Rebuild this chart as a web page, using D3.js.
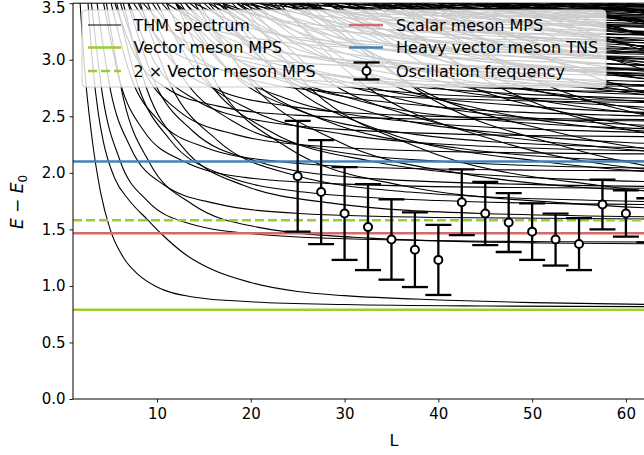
<!DOCTYPE html>
<html>
<head>
<meta charset="utf-8">
<script src="https://cdn.jsdelivr.net/npm/d3@7"></script>
<style>
  body { margin: 0; background: #fff; }
  svg { font-family: "DejaVu Sans", sans-serif; display: block; }
</style>
</head>
<body>
<div id="chart"></div>
<script>
// --- Data ---
// Reference levels (horizontal lines)
const vectorMesonMps = 0.79;
const scalarMesonMps = 1.465;
const heavyVectorTns = 2.10;

// Oscillation frequency points with symmetric error bars
const oscL   = [25, 27.5, 30, 32.5, 35, 37.5, 40, 42.5, 45, 47.5, 50, 52.5, 55, 57.5, 60, 62.5];
const oscE   = [1.97, 1.83, 1.64, 1.52, 1.41, 1.32, 1.23, 1.74, 1.64, 1.56, 1.48, 1.41, 1.37, 1.72, 1.64, 1.58];
const oscErr = [0.49, 0.46, 0.41, 0.38, 0.355, 0.33, 0.31, 0.29, 0.28, 0.26, 0.25, 0.23, 0.23, 0.22, 0.205, 0.195];

// THM spectrum: each level is a list of [L, E] points
const thmCurves = [
  // lowest levels
  [[1.8,3.5],[2.3,2.9],[3,2.35],[4,1.82],[5,1.5],[6.5,1.24],[8,1.1],[10,0.99],[14,0.9],[20,0.86],[30,0.835],[45,0.822],[70,0.815]],
  [[2.64,3.5],[3.2,2.9],[3.7,2.55],[4.24,2.29],[5.5,1.95],[7,1.76],[9,1.585],[10.35,1.47],[13,1.28],[16,1.14],[20,1.03],[25,0.95],[30,0.914],[40,0.876],[50,0.852],[70,0.826]],
  [[3,3.5],[4.2,2.68],[6,2.12],[9,1.75],[13.5,1.55],[21,1.455],[33,1.41],[54,1.39],[90,1.38]],
  [[4.6,3.5],[6.44,2.65],[9.2,2.09],[13.8,1.72],[20.7,1.52],[32.2,1.425],[50.6,1.38],[82.8,1.36]],
  // levels around 1.6 - 2.2
  [[3.6,3.5],[5.04,2.73],[7.2,2.22],[10.8,1.89],[16.2,1.73],[25.2,1.64],[39.6,1.605],[64.8,1.59]],
  [[6.4,3.5],[8.96,2.73],[12.8,2.22],[19.2,1.89],[28.8,1.73],[44.8,1.64],[70.4,1.605]],
  [[12,3.5],[16.8,2.73],[24,2.22],[36,1.89],[54,1.73],[84,1.64]],
  [[19,3.5],[26.6,2.73],[38,2.22],[57,1.89],[85.5,1.73]],
  [[27,3.5],[37.8,2.73],[54,2.22],[81,1.89]],
  [[5.7,3.5],[7.98,2.77],[11.4,2.29],[17.1,1.98],[25.65,1.83],[39.9,1.755],[62.7,1.72],[102.6,1.71]],
  [[8.2,3.5],[11.48,2.77],[16.4,2.29],[24.6,1.98],[36.9,1.83],[57.4,1.755],[90.2,1.72]],
  [[14.5,3.5],[20.3,2.77],[29,2.29],[43.5,1.98],[65.25,1.83]],
  [[23,3.5],[32.2,2.77],[46,2.29],[69,1.98]],
  [[33,3.5],[46.2,2.77],[66,2.29]],
  [[4.3,3.5],[6.02,2.815],[8.6,2.37],[12.9,2.1],[19.35,1.96],[30.1,1.9],[47.3,1.87],[77.4,1.857]],
  [[6.9,3.5],[9.66,2.815],[13.8,2.37],[20.7,2.1],[31.05,1.96],[48.3,1.9],[75.9,1.87]],
  [[11,3.5],[15.4,2.815],[22,2.37],[33,2.1],[49.5,1.96],[77,1.9]],
  [[17,3.5],[23.8,2.815],[34,2.37],[51,2.1],[76.5,1.96]],
  [[26,3.5],[36.4,2.815],[52,2.37],[78,2.1]],
  [[36,3.5],[50.4,2.815],[72,2.37]],
  [[5.1,3.5],[7.14,2.865],[10.2,2.46],[15.3,2.22],[22.95,2.1],[35.7,2.04],[56.1,2.02],[91.8,2.006]],
  [[9,3.5],[12.6,2.865],[18,2.46],[27,2.22],[40.5,2.1],[63,2.04]],
  [[14,3.5],[19.6,2.865],[28,2.46],[42,2.22],[63,2.1]],
  [[19.5,3.5],[27.3,2.865],[39,2.46],[58.5,2.22],[87.75,2.1]],
  [[29,3.5],[40.6,2.865],[58,2.46],[87,2.22]],
  [[40,3.5],[56,2.865],[80,2.46]],
  [[6.1,3.5],[8.54,2.92],[12.2,2.555],[18.3,2.34],[27.45,2.235],[42.7,2.185],[67.1,2.165]],
  [[10,3.5],[14,2.92],[20,2.555],[30,2.34],[45,2.235],[70,2.185]],
  [[12.5,3.5],[17.5,2.92],[25,2.555],[37.5,2.34],[56.25,2.235],[87.5,2.185]],
  [[16,3.5],[22.4,2.92],[32,2.555],[48,2.34],[72,2.235]],
  [[22.5,3.5],[31.5,2.92],[45,2.555],[67.5,2.34]],
  [[31,3.5],[43.4,2.92],[62,2.555],[93,2.34]],
  [[44,3.5],[61.6,2.92],[88,2.555]],
  // levels around 2.3 - 2.7
  [[7,3.5],[9.8,2.97],[14,2.65],[21,2.46],[31.5,2.375],[49,2.33],[77,2.31]],
  [[12,3.5],[16.8,2.97],[24,2.65],[36,2.46],[54,2.375],[84,2.33]],
  [[15.5,3.5],[21.7,2.97],[31,2.65],[46.5,2.46],[69.75,2.375]],
  [[18,3.5],[25.2,2.97],[36,2.65],[54,2.46],[81,2.375]],
  [[25,3.5],[35,2.97],[50,2.65],[75,2.46]],
  [[34,3.5],[47.6,2.97],[68,2.65]],
  [[47,3.5],[65.8,2.97]],
  [[5.5,3.5],[7.7,3.03],[11,2.75],[16.5,2.59],[24.75,2.51],[38.5,2.475],[60.5,2.46],[99,2.454]],
  [[8,3.5],[11.2,3.03],[16,2.75],[24,2.59],[36,2.51],[56,2.475],[88,2.46]],
  [[13,3.5],[18.2,3.03],[26,2.75],[39,2.59],[58.5,2.51],[91,2.475]],
  [[16.5,3.5],[23.1,3.03],[33,2.75],[49.5,2.59],[74.25,2.51]],
  [[20,3.5],[28,3.03],[40,2.75],[60,2.59],[90,2.51]],
  [[24,3.5],[33.6,3.03],[48,2.75],[72,2.59]],
  [[28,3.5],[39.2,3.03],[56,2.75],[84,2.59]],
  [[36,3.5],[50.4,3.03],[72,2.75]],
  [[50,3.5],[70,3.03]],
  [[9.5,3.5],[13.3,3.09],[19,2.85],[28.5,2.715],[42.75,2.65],[66.5,2.62]],
  [[12,3.5],[16.8,3.09],[24,2.85],[36,2.715],[54,2.65],[84,2.62]],
  [[15,3.5],[21,3.09],[30,2.85],[45,2.715],[67.5,2.65]],
  [[18.5,3.5],[25.9,3.09],[37,2.85],[55.5,2.715],[83.25,2.65]],
  [[22,3.5],[30.8,3.09],[44,2.85],[66,2.715]],
  [[26,3.5],[36.4,3.09],[52,2.85],[78,2.715]],
  [[30,3.5],[42,3.09],[60,2.85],[90,2.715]],
  [[34.5,3.5],[48.3,3.09],[69,2.85]],
  [[38,3.5],[53.2,3.09],[76,2.85]],
  [[45,3.5],[63,3.09],[90,2.85]],
  [[13,3.5],[18.2,3.12],[26,2.9],[39,2.78],[58.5,2.72],[91,2.695]],
  [[20,3.5],[28,3.12],[40,2.9],[60,2.78],[90,2.72]],
  [[28,3.5],[39.2,3.12],[56,2.9],[84,2.78]],
  [[37,3.5],[51.8,3.12],[74,2.9]],
  [[48,3.5],[67.2,3.12]],
  // dense band 2.75 - 3.5
  [[7.5,3.5],[10.5,3.155],[15,2.955],[22.5,2.845],[33.75,2.79],[52.5,2.77],[82.5,2.757]],
  [[10.5,3.5],[14.7,3.155],[21,2.955],[31.5,2.845],[47.25,2.79],[73.5,2.77]],
  [[16.5,3.5],[23.1,3.155],[33,2.955],[49.5,2.845],[74.25,2.79]],
  [[24,3.5],[33.6,3.155],[48,2.955],[72,2.845]],
  [[33,3.5],[46.2,3.155],[66,2.955]],
  [[42,3.5],[58.8,3.155],[84,2.955]],
  [[52,3.5],[72.8,3.155]],
  [[13.5,3.5],[18.9,3.19],[27,3.01],[40.5,2.91],[60.75,2.86],[94.5,2.84]],
  [[17,3.5],[23.8,3.19],[34,3.01],[51,2.91],[76.5,2.86]],
  [[21,3.5],[29.4,3.19],[42,3.01],[63,2.91]],
  [[25.5,3.5],[35.7,3.19],[51,3.01],[76.5,2.91]],
  [[30.5,3.5],[42.7,3.19],[61,3.01],[91.5,2.91]],
  [[35.5,3.5],[49.7,3.19],[71,3.01]],
  [[40,3.5],[56,3.19],[80,3.01]],
  [[45.5,3.5],[63.7,3.19]],
  [[50,3.5],[70,3.19]],
  [[57,3.5],[79.8,3.19]],
  [[8.5,3.5],[11.9,3.22],[17,3.06],[25.5,2.97],[38.25,2.93],[59.5,2.91],[93.5,2.905]],
  [[12,3.5],[16.8,3.22],[24,3.06],[36,2.97],[54,2.93],[84,2.91]],
  [[18.5,3.5],[25.9,3.22],[37,3.06],[55.5,2.97],[83.25,2.93]],
  [[26,3.5],[36.4,3.22],[52,3.06],[78,2.97]],
  [[35,3.5],[49,3.22],[70,3.06]],
  [[45,3.5],[63,3.22],[90,3.06]],
  [[56,3.5],[78.4,3.22]],
  [[15.5,3.5],[21.7,3.255],[31,3.115],[46.5,3.035],[69.75,3.0]],
  [[19,3.5],[26.6,3.255],[38,3.115],[57,3.035],[85.5,3.0]],
  [[23,3.5],[32.2,3.255],[46,3.115],[69,3.035]],
  [[27.5,3.5],[38.5,3.255],[55,3.115],[82.5,3.035]],
  [[32,3.5],[44.8,3.255],[64,3.115]],
  [[37.5,3.5],[52.5,3.255],[75,3.115]],
  [[43,3.5],[60.2,3.255],[86,3.115]],
  [[48.5,3.5],[67.9,3.255]],
  [[54,3.5],[75.6,3.255]],
  [[60,3.5],[84,3.255]],
  [[11,3.5],[15.4,3.29],[22,3.17],[33,3.1],[49.5,3.07],[77,3.06]],
  [[14,3.5],[19.6,3.29],[28,3.17],[42,3.1],[63,3.07]],
  [[20,3.5],[28,3.29],[40,3.17],[60,3.1],[90,3.07]],
  [[28.5,3.5],[39.9,3.29],[57,3.17],[85.5,3.1]],
  [[38.5,3.5],[53.9,3.29],[77,3.17]],
  [[48,3.5],[67.2,3.29]],
  [[60,3.5],[84,3.29]],
  [[17,3.5],[23.8,3.325],[34,3.225],[51,3.17],[76.5,3.14]],
  [[21,3.5],[29.4,3.325],[42,3.225],[63,3.17]],
  [[25,3.5],[35,3.325],[50,3.225],[75,3.17]],
  [[30,3.5],[42,3.325],[60,3.225],[90,3.17]],
  [[35.5,3.5],[49.7,3.325],[71,3.225]],
  [[40.5,3.5],[56.7,3.325],[81,3.225]],
  [[46,3.5],[64.4,3.325]],
  [[52,3.5],[72.8,3.325]],
  [[58,3.5],[81.2,3.325]],
  [[16,3.5],[22.4,3.36],[32,3.28],[48,3.235],[72,3.215]],
  [[24.5,3.5],[34.3,3.36],[49,3.28],[73.5,3.235]],
  [[32.5,3.5],[45.5,3.36],[65,3.28]],
  [[42.5,3.5],[59.5,3.36],[85,3.28]],
  [[52.5,3.5],[73.5,3.36]],
  [[62,3.5],[86.8,3.36]],
  [[19,3.5],[26.6,3.395],[38,3.335],[57,3.3],[85.5,3.29]],
  [[23,3.5],[32.2,3.395],[46,3.335],[69,3.3]],
  [[27.5,3.5],[38.5,3.395],[55,3.335],[82.5,3.3]],
  [[33,3.5],[46.2,3.395],[66,3.335]],
  [[37.5,3.5],[52.5,3.395],[75,3.335]],
  [[44,3.5],[61.6,3.395]],
  [[49,3.5],[68.6,3.395]],
  [[56,3.5],[78.4,3.395]],
  [[20.5,3.5],[28.7,3.43],[41,3.39],[61.5,3.37],[92.25,3.36]],
  [[25,3.5],[35,3.43],[50,3.39],[75,3.37]],
  [[29.5,3.5],[41.3,3.43],[59,3.39],[88.5,3.37]],
  [[35,3.5],[49,3.43],[70,3.39]],
  [[40.5,3.5],[56.7,3.43],[81,3.39]],
  [[46,3.5],[64.4,3.43]],
  [[51.5,3.5],[72.1,3.43]],
  [[58,3.5],[81.2,3.43]],
  [[22,3.5],[30.8,3.465],[44,3.445],[66,3.435]],
  [[28,3.5],[39.2,3.465],[56,3.445],[84,3.435]],
  [[34,3.5],[47.6,3.465],[68,3.445]],
  [[40,3.5],[56,3.465],[80,3.445]],
  [[46.5,3.5],[65.1,3.465]],
  [[52,3.5],[72.8,3.465]]
];

const xTicks = [10, 20, 30, 40, 50, 60];
const yTicks = [0, 0.5, 1.0, 1.5, 2.0, 2.5, 3.0, 3.5];

const legendLabels = ["THM spectrum", "Vector meson MPS", "2 \u00d7 Vector meson MPS",
                      "Scalar meson MPS", "Heavy vector meson TNS", "Oscillation frequency"];

// --- Layout ---
const W = 644, H = 455;
// plot is wider than the window: the right side of the axes is cut off in the original
const margin = {top: 3.2, left: 73};
const plotRight = 715, plotBottom = 399;

const green = "#9acd32", red = "#d36b6b", blue = "#4682b4";

const svg = d3.select("#chart").append("svg")
    .attr("width", W).attr("height", H)
    .style("overflow", "hidden");

const x = d3.scaleLinear().domain([1.04, 69.5]).range([margin.left, plotRight]);
const y = d3.scaleLinear().domain([0, 3.5]).range([plotBottom, margin.top]);

svg.append("defs").append("clipPath").attr("id", "plotClip")
  .append("rect")
    .attr("x", margin.left).attr("y", margin.top)
    .attr("width", plotRight - margin.left).attr("height", plotBottom - margin.top);

const plot = svg.append("g").attr("clip-path", "url(#plotClip)");

// --- THM spectrum ---
const line = d3.line()
    .x(d => x(d[0]))
    .y(d => y(d[1]))
    .curve(d3.curveMonotoneX);

plot.selectAll("path.thm")
    .data(thmCurves)
    .enter().append("path")
      .attr("class", "thm")
      .attr("d", line)
      .attr("fill", "none")
      .attr("stroke", "#000")
      .attr("stroke-width", 1.1);

// --- Reference levels ---
const levels = [
  {v: vectorMesonMps, c: green, dash: null},
  {v: 2 * vectorMesonMps, c: green, dash: "9,4"},
  {v: scalarMesonMps, c: red, dash: null},
  {v: heavyVectorTns, c: blue, dash: null}
];
plot.selectAll("line.level")
    .data(levels)
    .enter().append("line")
      .attr("class", "level")
      .attr("x1", x.range()[0]).attr("x2", x.range()[1])
      .attr("y1", d => y(d.v)).attr("y2", d => y(d.v))
      .attr("stroke", d => d.c)
      .attr("stroke-width", 2.5)
      .attr("stroke-dasharray", d => d.dash);

// --- Oscillation frequency with error bars ---
const osc = oscL.map((L, i) => ({L: L, e: oscE[i], err: oscErr[i]}));
const capHalf = 13;
const eb = plot.selectAll("g.eb").data(osc).enter().append("g").attr("class", "eb");
eb.append("line")
    .attr("x1", d => x(d.L)).attr("x2", d => x(d.L))
    .attr("y1", d => y(d.e - d.err)).attr("y2", d => y(d.e + d.err))
    .attr("stroke", "#000").attr("stroke-width", 2.3);
[-1, 1].forEach(s => {
  eb.append("line")
      .attr("x1", d => x(d.L) - capHalf).attr("x2", d => x(d.L) + capHalf)
      .attr("y1", d => y(d.e + s * d.err)).attr("y2", d => y(d.e + s * d.err))
      .attr("stroke", "#000").attr("stroke-width", 2.3);
});
eb.append("circle")
    .attr("cx", d => x(d.L)).attr("cy", d => y(d.e))
    .attr("r", 4)
    .attr("fill", "#fff").attr("stroke", "#000").attr("stroke-width", 2);

// --- Axes ---
const xAxis = d3.axisBottom(x).tickValues(xTicks).tickSize(3.5).tickPadding(4).tickFormat(d3.format("d"));
const yAxis = d3.axisLeft(y).tickValues(yTicks).tickSize(3.5).tickPadding(4).tickFormat(d3.format(".1f"));

const gx = svg.append("g").attr("transform", `translate(0,${plotBottom})`).call(xAxis);
const gy = svg.append("g").attr("transform", `translate(${margin.left},0)`).call(yAxis);
[gx, gy].forEach(g => {
  g.select(".domain").remove();
  g.selectAll(".tick line").attr("stroke", "#000").attr("stroke-width", 0.9);
  g.selectAll(".tick text").attr("fill", "#000").style("font-size", "15px")
      .style("font-family", "DejaVu Sans");
});
gx.selectAll(".tick text").attr("dy", "0.8em");
// top label sits a little lower so it is not cut at the window edge (as in the original)
gy.selectAll(".tick text").filter(d => d === 3.5).attr("dy", "0.6em");

// frame (left, bottom, top; right edge lies outside the window)
svg.append("line").attr("x1", margin.left).attr("x2", margin.left)
    .attr("y1", margin.top).attr("y2", plotBottom).attr("stroke", "#000").attr("stroke-width", 1);
svg.append("line").attr("x1", margin.left).attr("x2", plotRight)
    .attr("y1", plotBottom).attr("y2", plotBottom).attr("stroke", "#000").attr("stroke-width", 1);
svg.append("line").attr("x1", margin.left).attr("x2", plotRight)
    .attr("y1", margin.top).attr("y2", margin.top).attr("stroke", "#000").attr("stroke-width", 1);

// Axis labels
svg.append("text")
    .attr("x", 394).attr("y", 446)
    .attr("text-anchor", "middle")
    .style("font-size", "16px")
    .text("L");

const yl = svg.append("text")
    .attr("transform", "translate(23,202) rotate(-90)")
    .attr("text-anchor", "middle")
    .style("font-size", "17px");
yl.append("tspan").style("font-style", "italic").text("E");
yl.append("tspan").text(" \u2212 ");
yl.append("tspan").style("font-style", "italic").text("E");
yl.append("tspan").attr("dy", 4).style("font-size", "12px").text("0");

// --- Legend ---
const lg = svg.append("g");
lg.append("rect")
    .attr("x", 82).attr("y", 10).attr("width", 524).attr("height", 77)
    .attr("rx", 4)
    .attr("fill", "#fff").attr("fill-opacity", 0.8)
    .attr("stroke", "#ccc").attr("stroke-width", 1);

const rowY = [25, 47.5, 71];
const colHandle = [[88, 121], [349, 383]];
const colText = [133.5, 396];
const handles = [
  {c: "#000", w: 1, dash: null},
  {c: green, w: 2.5, dash: null},
  {c: green, w: 2.5, dash: "9,4"},
  {c: red, w: 2.5, dash: null},
  {c: blue, w: 2.5, dash: null},
  null
];
legendLabels.forEach((label, i) => {
  const col = Math.floor(i / 3), row = i % 3;
  const cy = rowY[row];
  const h = handles[i];
  if (h) {
    lg.append("line")
        .attr("x1", colHandle[col][0]).attr("x2", colHandle[col][1])
        .attr("y1", cy).attr("y2", cy)
        .attr("stroke", h.c).attr("stroke-width", h.w)
        .attr("stroke-dasharray", h.dash);
  } else {
    // error-bar handle
    const cx = (colHandle[col][0] + colHandle[col][1]) / 2 + 0.5;
    lg.append("line").attr("x1", cx).attr("x2", cx).attr("y1", cy - 8.5).attr("y2", cy + 8.5)
        .attr("stroke", "#000").attr("stroke-width", 2.3);
    [-8.5, 8.5].forEach(o => lg.append("line")
        .attr("x1", cx - 13).attr("x2", cx + 13).attr("y1", cy + o).attr("y2", cy + o)
        .attr("stroke", "#000").attr("stroke-width", 2.3));
    lg.append("circle").attr("cx", cx).attr("cy", cy).attr("r", 4)
        .attr("fill", "#fff").attr("stroke", "#000").attr("stroke-width", 2);
  }
  lg.append("text")
      .attr("x", colText[col]).attr("y", cy + 5.8)
      .style("font-size", "16px")
      .attr("fill", "#000")
      .text(label);
});
</script>
</body>
</html>
